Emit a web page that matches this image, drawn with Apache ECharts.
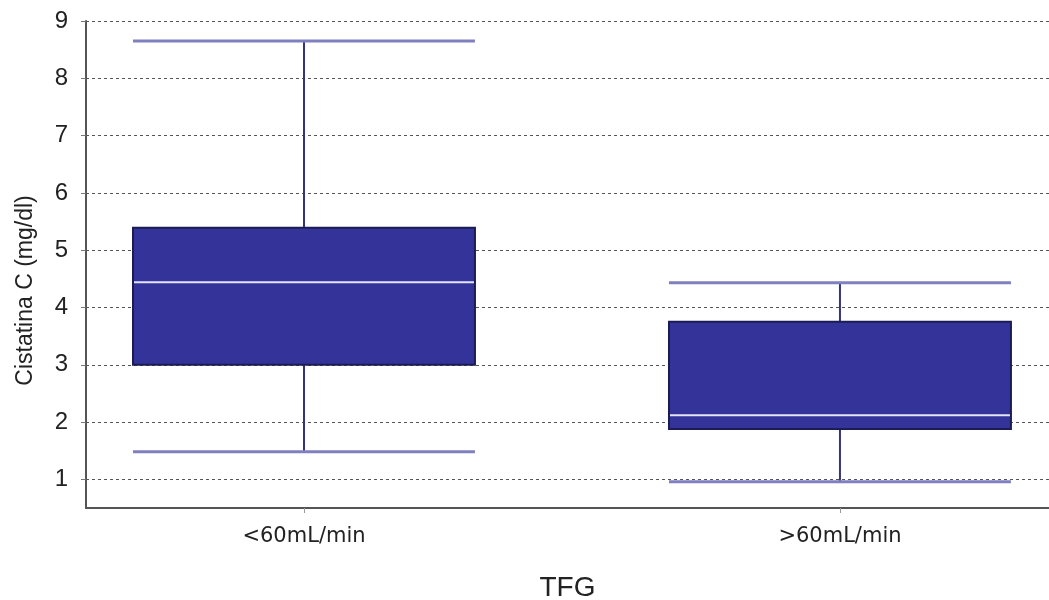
<!DOCTYPE html>
<html>
<head>
<meta charset="utf-8">
<script src="https://cdn.jsdelivr.net/npm/echarts@6/dist/echarts.min.js"></script>
<style>html,body{margin:0;padding:0;background:#fff}#c{width:1049px;height:600px}</style>
</head>
<body>
<div id="c"></div>
<script>
const categories = ['<60mL/min', '>60mL/min'];
const whiskerLow = [1.48, 0.96];
const quartile1 = [3.0, 1.88];
const medians = [4.44, 2.12];
const quartile3 = [5.39, 3.75];
const whiskerHigh = [8.65, 4.43];
const yTicks = [1, 2, 3, 4, 5, 6, 7, 8, 9];
const xName = 'TFG';
const yName = 'Cistatina C (mg/dl)';

const boxData = categories.map((c, i) => [i, whiskerLow[i], quartile1[i], medians[i], quartile3[i], whiskerHigh[i]]);
const FONT = "'Liberation Sans', Arial, sans-serif";

const chart = echarts.init(document.getElementById('c'), null, {renderer: 'canvas'});
chart.setOption({
  animation: false,
  backgroundColor: '#ffffff',
  grid: {left: 86, right: 0, top: 21, bottom: 92, containLabel: false, outerBoundsMode: 'none'},
  xAxis: {
    type: 'value',
    min: -0.4067,
    max: 1.39,
    name: xName,
    nameLocation: 'middle',
    nameGap: 66,
    nameTextStyle: {fontFamily: FONT, fontSize: 28, color: '#222'},
    axisLine: {show: true, onZero: false, lineStyle: {color: '#555', width: 2}},
    axisTick: {show: true, length: 5, customValues: [0, 1], lineStyle: {color: '#999'}},
    axisLabel: {
      customValues: [0, 1],
      margin: 18,
      fontFamily: "'DejaVu Sans', sans-serif", fontSize: 21, color: '#222',
      formatter: v => categories[Math.round(v)] || ''
    },
    splitLine: {show: false}
  },
  yAxis: {
    type: 'value',
    min: 0.5,
    max: 9,
    name: yName,
    nameLocation: 'middle',
    nameGap: 49,
    nameTextStyle: {fontFamily: FONT, fontSize: 23, color: '#222', padding: [0, 52, 0, 0]},
    axisLine: {show: true, onZero: false, lineStyle: {color: '#555', width: 2}},
    axisTick: {show: true, length: 5, customValues: yTicks, lineStyle: {color: '#777'}},
    axisLabel: {customValues: yTicks, margin: 18, fontFamily: FONT, fontSize: 24, color: '#222'},
    splitLine: {show: true, lineStyle: {color: '#555', type: [3, 3], width: 1}}
  },
  series: [{
    type: 'custom',
    data: boxData,
    clip: false,
    renderItem: function (params, api) {
      const x = api.value(0);
      const lo = api.coord([x, api.value(1)]);
      const q1 = api.coord([x, api.value(2)]);
      const md = api.coord([x, api.value(3)]);
      const q3 = api.coord([x, api.value(4)]);
      const hi = api.coord([x, api.value(5)]);
      const half = api.size([0.638, 0])[0] / 2;
      const cx = lo[0];
      return {
        type: 'group',
        children: [
          {type: 'line', shape: {x1: cx, y1: hi[1], x2: cx, y2: q3[1]}, style: {stroke: '#34347e', lineWidth: 2}},
          {type: 'line', shape: {x1: cx, y1: q1[1], x2: cx, y2: lo[1]}, style: {stroke: '#34347e', lineWidth: 2}},
          {type: 'rect', shape: {x: cx - half, y: q3[1], width: half * 2, height: q1[1] - q3[1]},
            style: {fill: '#333399', stroke: '#1c1c55', lineWidth: 2}},
          {type: 'line', shape: {x1: cx - half + 1, y1: md[1], x2: cx + half - 1, y2: md[1]}, style: {stroke: '#e4e4ff', lineWidth: 2}},
          {type: 'line', shape: {x1: cx - half, y1: hi[1], x2: cx + half, y2: hi[1]}, style: {stroke: '#8080c0', lineWidth: 3}},
          {type: 'line', shape: {x1: cx - half, y1: lo[1], x2: cx + half, y2: lo[1]}, style: {stroke: '#8080c0', lineWidth: 3}}
        ]
      };
    }
  }]
});
</script>
</body>
</html>
